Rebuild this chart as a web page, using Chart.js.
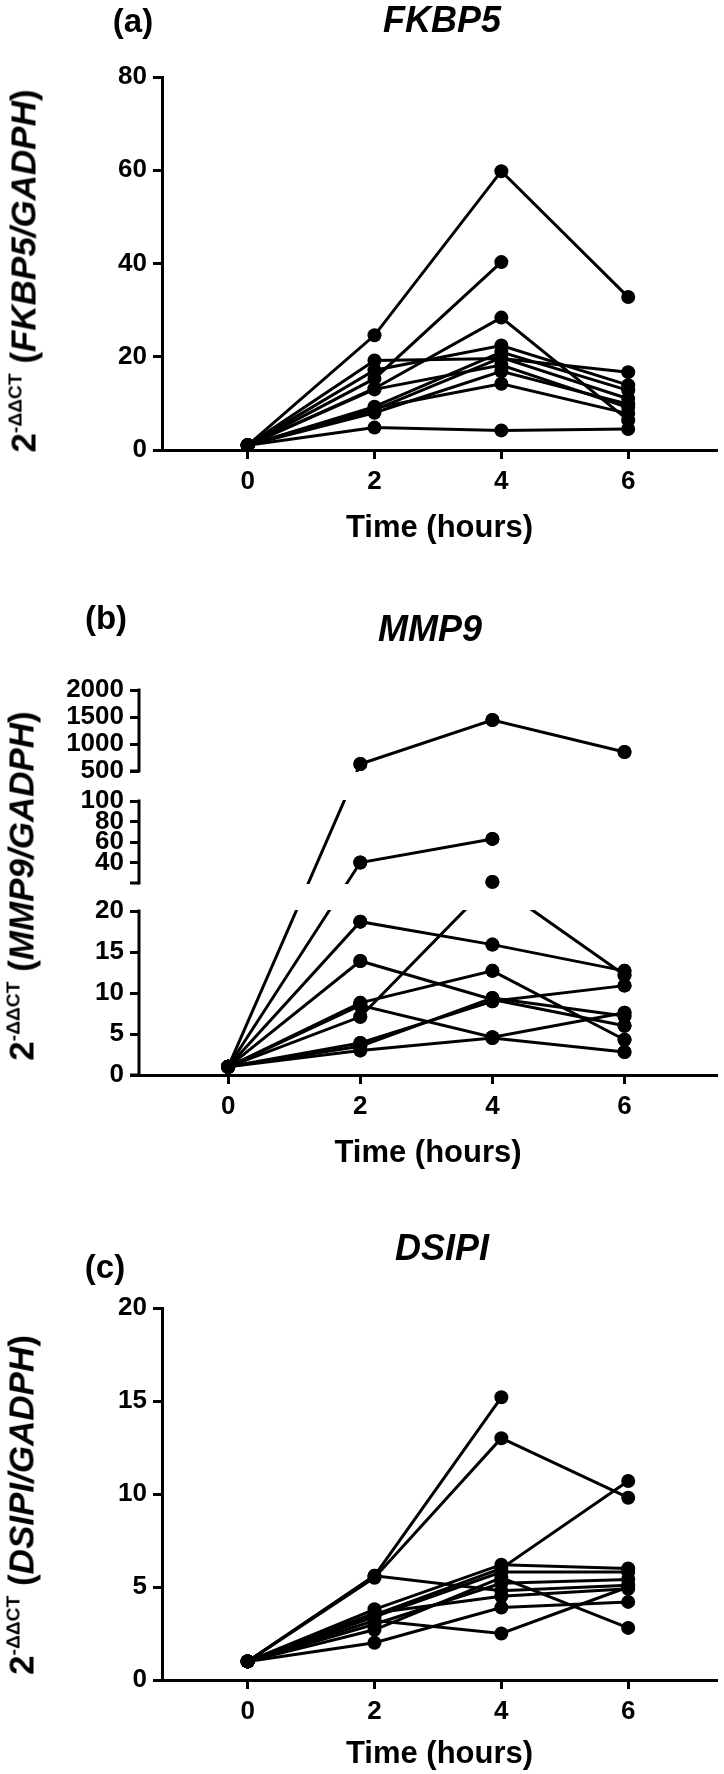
<!DOCTYPE html>
<html>
<head>
<meta charset="utf-8">
<script src="https://cdn.jsdelivr.net/npm/chart.js@4.4.1/dist/chart.umd.min.js"></script>
<style>
  body { margin: 0; background: #fff; }
  #page { position: relative; width: 724px; height: 1774px; font-family: 'Liberation Sans', Arial, sans-serif; color: #000; }
  canvas { position: absolute; left: 0; }
  .lbl { position: absolute; transform: translate(-50%, -50%); font-weight: bold; white-space: nowrap; line-height: 1; }
  .panel { font-size: 33px; }
  .gene { font-size: 36px; font-style: italic; }
  .ytitle { font-size: 35px; transform: translate(-50%, -50%) rotate(-90deg); }
  .ytitle sup { font-size: 0.55em; vertical-align: 0.75em; line-height: 0; }
</style>
</head>
<body>
<div id="page">
  <canvas id="chartA" width="724" height="560" style="top:0px"></canvas>
  <canvas id="chartB" width="724" height="614" style="top:560px"></canvas>
  <canvas id="chartC" width="724" height="600" style="top:1174px"></canvas>

  <div class="lbl panel" style="left:133px;top:20px">(a)</div>
  <div class="lbl gene" style="left:442px;top:20px">FKBP5</div>
  <div class="lbl ytitle" style="left:23px;top:271px">2<sup>-ΔΔCT</sup> (<i>FKBP5/GADPH</i>)</div>

  <div class="lbl panel" style="left:106px;top:617px">(b)</div>
  <div class="lbl gene" style="left:430px;top:629px">MMP9</div>
  <div class="lbl ytitle" style="left:21px;top:886px">2<sup>-ΔΔCT</sup> (<i>MMP9/GADPH</i>)</div>

  <div class="lbl panel" style="left:105px;top:1266px">(c)</div>
  <div class="lbl gene" style="left:442px;top:1248px">DSIPI</div>
  <div class="lbl ytitle" style="left:21px;top:1505px">2<sup>-ΔΔCT</sup> (<i>DSIPI/GADPH</i>)</div>
</div>

<script>
const hours = [0, 2, 4, 6];

// (a) FKBP5, one row per subject (0, 2, 4, 6 h)
const fkbp5 = [
  [1, 24.6, 59.8, 32.8],
  [1, 15.3, 40.3, null],
  [1, 13.2, 28.4, 6.4],
  [1, 19.2, 19.6, 16.7],
  [1, 17.1, 22.4, 13.9],
  [1, 9.3, 21.0, 12.8],
  [1, 8.6, 19.8, 11.0],
  [1, 13.0, 18.2, 9.1],
  [1, 8.0, 16.9, 9.8],
  [1, 9.0, 14.2, 7.8],
  [1, 4.8, 4.2, 4.5],
];
const fkbp5Ticks = [0, 20, 40, 60, 80];

// (b) MMP9
const mmp9 = [
  [1, 630, 1444, 852],
  [1, 40, 63, null],
  [1, 18.7, 15.9, 12.7],
  [1, 7.1, 21, 12.2],
  [1, 13.9, 9.2, 6.0],
  [1, 8.8, 12.7, 4.3],
  [1, 8.5, 4.6, 7.6],
  [1, 3.9, 9.0, 10.9],
  [1, 3.0, 4.5, 2.8],
  [1, 3.5, 9.4, 7.2],
];
const mmp9Ticks = [0, 5, 10, 15, 20, 40, 60, 80, 100, 500, 1000, 1500, 2000];

// (c) DSIPI
const dsipi = [
  [1, 5.6, 15.2, null],
  [1, 5.5, 13.0, 9.8],
  [1, 5.6, 4.8, 5.1],
  [1, 3.5, 6.0, 10.7],
  [1, 3.8, 6.2, 6.0],
  [1, 3.4, 5.8, 5.8],
  [1, 2.7, 5.5, 2.8],
  [1, 3.2, 2.5, 5.0],
  [1, 2.0, 3.9, 4.2],
  [1, 3.0, 5.2, 5.4],
  [1, 3.6, 4.5, 4.9],
];
const dsipiTicks = [0, 5, 10, 15, 20];

// broken y axis for MMP9: value range -> display units (pixels of plot height)
const segs = [
  { from: 0, to: 20, lo: 0, hi: 164 },
  { from: 20, to: 100, lo: 192, hi: 274 },
  { from: 500, to: 2000, lo: 304, hi: 385 },
];
function brk(v) {
  if (v === null) return null;
  const s = segs.find((g) => v <= g.to) || segs[segs.length - 1];
  return s.lo + ((v - s.from) / (s.to - s.from)) * (s.hi - s.lo);
}

Chart.defaults.font.family = "'Liberation Sans', Arial, sans-serif";
Chart.defaults.color = '#000';

const tickFont = { size: 26, weight: 'bold' };
const axisGrid = { drawOnChartArea: false, tickLength: 9, tickWidth: 3, tickColor: '#000' };

function toDatasets(rows, fn) {
  return rows.map((r) => ({
    data: hours.map((h, i) => ({ x: h, y: fn ? fn(r[i]) : r[i] })),
    borderColor: '#000',
    borderWidth: 3,
    pointRadius: 7,
    pointBackgroundColor: '#000',
    pointBorderWidth: 0,
    spanGaps: false,
  }));
}

function xScale(height, titlePad) {
  return {
    type: 'linear',
    min: -1.35,
    max: 7.4,
    afterBuildTicks: (s) => { s.ticks = hours.map((v) => ({ value: v })); },
    afterFit: (s) => { s.height = height; },
    ticks: { padding: 7, font: tickFont, color: '#000' },
    grid: axisGrid,
    border: { display: true, width: 3, color: '#000' },
    title: {
      display: true,
      text: 'Time (hours)',
      color: '#000',
      font: { size: 31, weight: 'bold' },
      padding: { top: 0, bottom: titlePad },
    },
  };
}

function yScale(min, max, ticks, width, mapFn) {
  return {
    type: 'linear',
    min,
    max,
    afterBuildTicks: (s) => { s.ticks = ticks.map((v) => ({ value: mapFn ? mapFn(v) : v })); },
    afterFit: (s) => { s.width = width; },
    ticks: {
      padding: 6,
      autoSkip: false,
      font: tickFont,
      color: '#000',
      callback: (val, i) => ticks[i],
    },
    grid: axisGrid,
    border: { display: !mapFn, width: 3, color: '#000' },
  };
}

function baseOptions(padTop, x, y) {
  return {
    responsive: false,
    animation: false,
    events: [],
    layout: { padding: { top: padTop, right: 2, left: 0, bottom: 0 } },
    plugins: { legend: { display: false }, tooltip: { enabled: false } },
    scales: { x, y },
  };
}

// hides the lines inside the axis breaks and draws the split y axis
const brokenAxis = {
  id: 'brokenAxis',
  afterDatasetsDraw(chart) {
    const { ctx, chartArea } = chart;
    const y = chart.scales.y;
    ctx.save();
    ctx.fillStyle = '#fff';
    for (let i = 0; i < segs.length - 1; i += 1) {
      const top = y.getPixelForValue(segs[i + 1].lo);
      const bot = y.getPixelForValue(segs[i].hi);
      ctx.fillRect(chartArea.left, top + 1, chartArea.right - chartArea.left, bot - top - 2);
    }
    chart.data.datasets.forEach((ds, i) => {
      chart.getDatasetMeta(i).data.forEach((pt) => pt.draw(ctx, chartArea));
    });
    ctx.strokeStyle = '#000';
    ctx.lineWidth = 3;
    const x = chartArea.left;
    segs.forEach((s) => {
      const p1 = y.getPixelForValue(s.lo);
      const p2 = y.getPixelForValue(s.hi);
      ctx.beginPath();
      ctx.moveTo(x, p1 + 1.5);
      ctx.lineTo(x, p2 - 1.5);
      ctx.stroke();
      ctx.beginPath();
      ctx.moveTo(x - 9, p1);
      ctx.lineTo(x, p1);
      ctx.stroke();
    });
    ctx.restore();
  },
};

new Chart(document.getElementById('chartA'), {
  type: 'line',
  data: { datasets: toDatasets(fkbp5) },
  options: baseOptions(77, xScale(110, 13), yScale(0, 80, fkbp5Ticks, 162)),
});

new Chart(document.getElementById('chartB'), {
  type: 'line',
  data: { datasets: toDatasets(mmp9, brk) },
  options: baseOptions(130, xScale(99, 2), yScale(0, 385, mmp9Ticks, 139, brk)),
  plugins: [brokenAxis],
});

new Chart(document.getElementById('chartC'), {
  type: 'line',
  data: { datasets: toDatasets(dsipi) },
  options: baseOptions(134, xScale(94, 1), yScale(0, 20, dsipiTicks, 162)),
});
</script>
</body>
</html>
